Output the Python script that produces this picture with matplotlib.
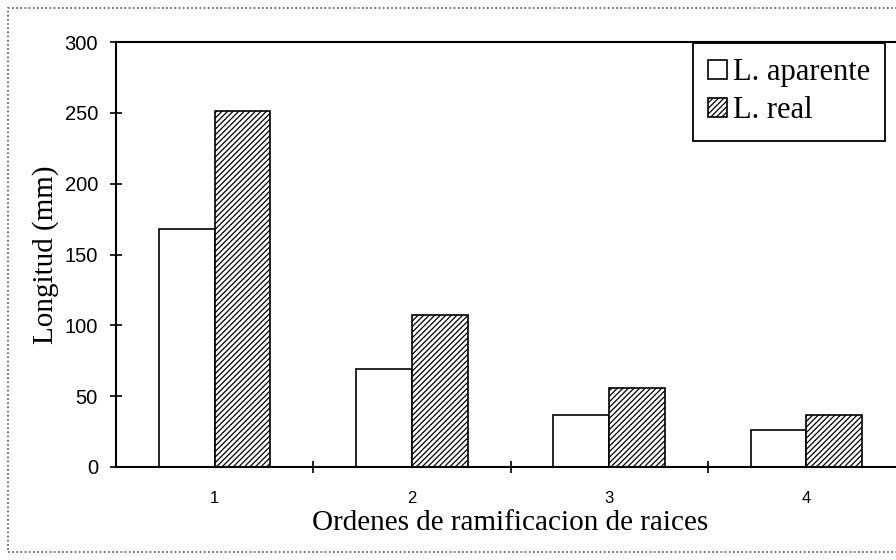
import matplotlib
matplotlib.use("Agg")
import matplotlib.pyplot as plt
from matplotlib.patches import Rectangle
import numpy as np

# Ordenes de ramificacion (1..4), longitud en mm
ordenes = ["1", "2", "3", "4"]
l_aparente = [168, 69, 37, 26]
l_real = [251, 107, 56, 37]

plt.rcParams["hatch.linewidth"] = 0.9
serif = ["Liberation Serif", "DejaVu Serif"]

fig = plt.figure(figsize=(8.96, 5.6), dpi=100)
ax = fig.add_axes([116 / 896, 93 / 560, 789 / 896, 425 / 560])

x = np.arange(1, len(ordenes) + 1)
w = 0.283
ax.bar(x - w / 2, l_aparente, w, color="white", edgecolor="black", linewidth=1.2,
       label="L. aparente")
ax.bar(x + w / 2, l_real, w, color="white", edgecolor="black", linewidth=1.2,
       hatch="//////", label="L. real")

ax.set_xlim(0.5, 4.5)
ax.set_ylim(0, 300)
ax.set_yticks([0, 50, 100, 150, 200, 250, 300])
ax.set_xticks(x)
ax.set_xticklabels(ordenes)
ax.set_xticks([1.5, 2.5, 3.5], minor=True)
ax.tick_params(axis="x", which="major", length=0, pad=17, labelsize=12)
ax.tick_params(axis="x", which="minor", direction="inout", length=8, width=1.2)
ax.tick_params(axis="y", direction="inout", length=8, width=1.2, labelsize=14.5, pad=9)
for lab in ax.get_xticklabels() + ax.get_yticklabels():
    lab.set_family(["Liberation Sans", "DejaVu Sans"])

for s in ["left", "top", "bottom"]:
    ax.spines[s].set_linewidth(1.5)
ax.spines["right"].set_visible(False)

ax.set_ylabel("Longitud (mm)", family=serif, fontsize=21, labelpad=4)
ax.set_xlabel("Ordenes de ramificacion de raices", family=serif, fontsize=21, labelpad=3)

leg = ax.legend(loc="upper right", bbox_to_anchor=(0.975, 0.998), fancybox=False,
                edgecolor="black", framealpha=1, prop={"family": serif, "size": 22},
                handlelength=0.6, handleheight=0.6, handletextpad=0.2,
                borderpad=0.5, labelspacing=0.3, borderaxespad=0)
leg.get_frame().set_linewidth(1.3)

# dotted border of the scanned figure
fig.patches.append(Rectangle((8 / 896, 8 / 560), 900 / 896, 544 / 560,
                             transform=fig.transFigure, fill=False,
                             linestyle=(0, (1, 1.5)), edgecolor="#555555",
                             linewidth=1.2))

fig.savefig("out.png", dpi=100)
